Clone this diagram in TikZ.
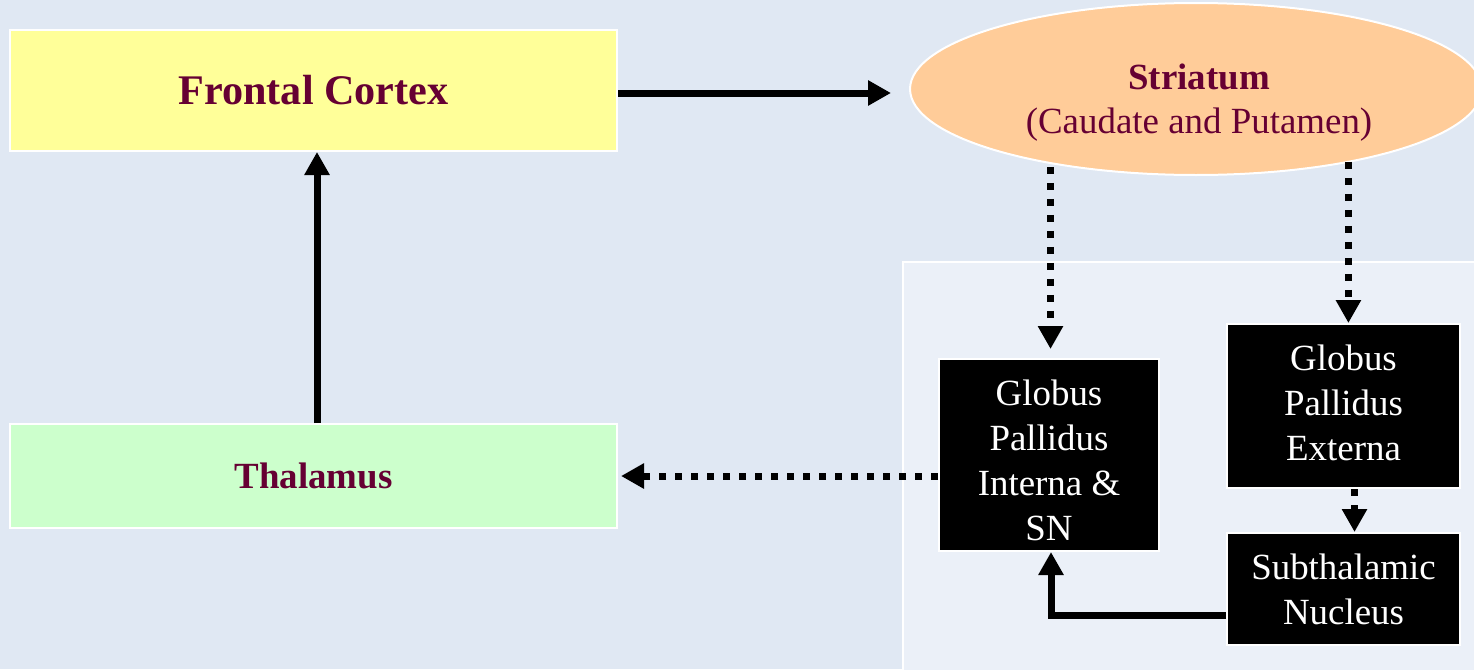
\documentclass[tikz,border=0pt]{standalone}
\usepackage{fontspec}
\setmainfont{Liberation Serif}
\usetikzlibrary{arrows.meta,shapes.geometric}
\definecolor{bgblue}{HTML}{E0E8F3}
\definecolor{panelblue}{HTML}{EBF0F8}
\definecolor{cortexyellow}{HTML}{FFFF99}
\definecolor{thalgreen}{HTML}{CCFFCC}
\definecolor{striorange}{HTML}{FFCC99}
\definecolor{labelred}{HTML}{660033}
\tikzset{
  region/.style={draw=white, line width=0.2mm, inner sep=0pt, align=center},
  lightbox/.style={region, rectangle, text=labelred,
    font=\fontsize{10.5pt}{12.5pt}\selectfont\bfseries},
  nucleus/.style={region, rectangle, fill=black, text=white,
    font=\fontsize{10.5pt}{12.8pt}\selectfont},
  tipshape/.style={-{Triangle[width=2.4mm,length=2.3mm]}},
  solidlink/.style={tipshape, line width=0.7mm},
  dottedlink/.style={tipshape, line width=0.7mm, dash pattern=on 0.7mm off 0.9mm}
}
\begin{document}
\begin{tikzpicture}[x=0.1mm, y=-0.1mm]
  % canvas
  \fill[bgblue] (0,0) rectangle (1474,669);
  \useasboundingbox (0,0) rectangle (1474,669);
  % lighter panel holding the pallidal and subthalamic nuclei
  \begin{scope}
    \clip (0,0) rectangle (1474,669);
    \draw[fill=panelblue, draw=white, line width=0.2mm]
      (903,262) rectangle (1490,690);
  \end{scope}

  % cortical and thalamic regions
  \node[lightbox, fill=cortexyellow, minimum width=60.7mm, minimum height=12.1mm,
        font=\fontsize{12pt}{14pt}\selectfont\bfseries]
    (fc) at (313.5,90.5) {Frontal Cortex};
  \node[lightbox, fill=thalgreen, minimum width=60.7mm, minimum height=10.4mm]
    (th) at (313.5,476) {Thalamus};

  % striatum
  \begin{scope}
    \clip (0,0) rectangle (1474,669);
    \node[region, ellipse, fill=striorange,
          minimum width=57.2mm, minimum height=17.2mm]
      (st) at (1196,89) {};
  \end{scope}
  \node[align=center, text=labelred, inner sep=0pt,
        font=\fontsize{10.5pt}{12.5pt}\selectfont]
    (stlabel) at (1199,103) {\textbf{Striatum}\\(Caudate and Putamen)};

  % basal ganglia nuclei
  \node[nucleus, minimum width=22mm, minimum height=19.2mm]
    (gpi) at (1049,455) {\rule{0pt}{3.6mm}Globus\\Pallidus\\Interna \&\\SN};
  \node[nucleus, minimum width=23.3mm, minimum height=16.4mm]
    (gpe) at (1343.5,406) {Globus\\Pallidus\\Externa\rule[-0.6mm]{0pt}{0.6mm}};
  \node[nucleus, minimum width=23.3mm, minimum height=11.2mm]
    (stn) at (1343.5,589) {Subthalamic\\Nucleus};

  % connections
  \draw[solidlink, shorten >=1.8mm] ([yshift=-0.25mm]fc.east) -- ([yshift=-0.25mm]fc.east -| st.west);
  \draw[solidlink] ([xshift=0.35mm]th.north) -- ([xshift=0.35mm]fc.south);
  \draw[dottedlink, shorten >=0.9mm] ([xshift=0.6mm,yshift=-0.4mm]st.206.5) -- ([xshift=0.6mm]st.206.5 |- gpi.north);
  \draw[dottedlink] ([xshift=-0.4mm]st.335) -- ([xshift=-0.4mm]st.335 |- gpe.north);
  \draw[dottedlink, shorten >=0.3mm] (th.east -| gpi.west) -- (th.east);
  \draw[dottedlink] ([xshift=1.1mm]gpe.south) -- ([xshift=1.1mm]stn.north);
  \draw[solidlink] ([yshift=-2.6mm]stn.west) -| ([xshift=0.2mm]gpi.south);
\end{tikzpicture}
\end{document}
